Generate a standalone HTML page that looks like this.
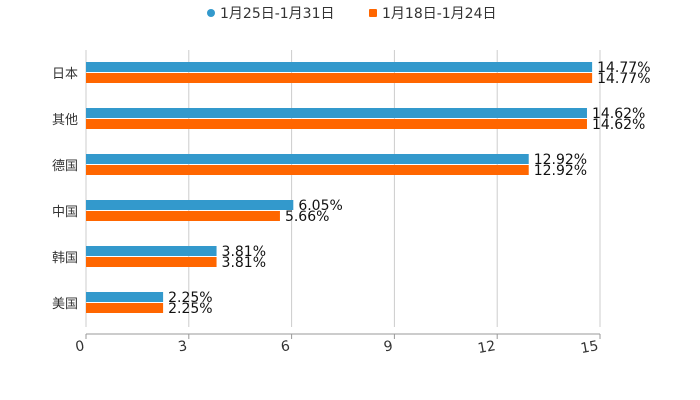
<!DOCTYPE html>
<html><head><meta charset="utf-8"><style>
body{margin:0;background:#fff;}
svg{display:block;font-family:"DejaVu Sans","Noto Sans CJK SC",sans-serif;}
</style></head><body>
<svg id="c" width="700" height="400">
<g id="legend">
<g><circle cx="211" cy="13" r="4" fill="#3399cc"/><text x="220" y="18" font-size="14" fill="#333">1月25日-1月31日</text></g>
<g><rect x="369" y="9" width="8" height="8" rx="1" fill="#ff6600"/><text x="382" y="18" font-size="14" fill="#333">1月18日-1月24日</text></g>
</g>
<g id="grid"></g><g id="bars"></g><g id="axes"></g>
</svg>
<script>
const categories=["日本","其他","德国","中国","韩国","美国"];
const seriesA=[14.77,14.62,12.92,6.05,3.81,2.25];
const seriesB=[14.77,14.62,12.92,5.66,3.81,2.25];
const ticks=[0,3,6,9,12,15];
const NS="http://www.w3.org/2000/svg";
const x0=86,x1=600,plotTop=50,plotBot=327,axisY=334;
const xs=v=>x0+(v/15)*(x1-x0);
const rowC=i=>73+i*46;
function mk(t,a,p){const e=document.createElementNS(NS,t);for(const k in a)e.setAttribute(k,a[k]);p.appendChild(e);return e;}
const G=document.getElementById('grid'),B=document.getElementById('bars'),A=document.getElementById('axes');
ticks.forEach(t=>{
 const l=mk('line',{x1:xs(t),x2:xs(t),y1:plotTop,y2:plotBot,stroke:'#ccc','stroke-width':1},G);
 
 
 const tk=mk('line',{x1:xs(t),x2:xs(t),y1:axisY,y2:axisY+5,stroke:'#999'},A);
 
 
 const tx=mk('text',{x:xs(t)-1,y:axisY+16,'font-size':14,fill:'#333','text-anchor':'end',transform:`rotate(-10 ${xs(t)-1} ${axisY+16})`},A);
 tx.textContent=t;
 
 
});
const ax=mk('line',{x1:x0,x2:x1,y1:axisY,y2:axisY,stroke:'#999'},A);


categories.forEach((c,i)=>{
 const cy=rowC(i);
 const lb=mk('text',{x:78,y:cy+5,'font-size':13,fill:'#333','text-anchor':'end'},A);
 lb.textContent=c;
 
 
 [[seriesA,'#3399cc',cy-11],[seriesB,'#ff6600',cy]].forEach(([s,col,y],k)=>{
  const r=mk('rect',{x:x0,y:y,width:xs(s[i])-x0,height:10,fill:col},B);
  
  
  const t=mk('text',{x:xs(s[i])+5,y:y+10,'font-size':14,fill:'#111'},B);
  t.textContent=s[i].toFixed(2)+'%';
  
  
 });
});
</script>
</body></html>
